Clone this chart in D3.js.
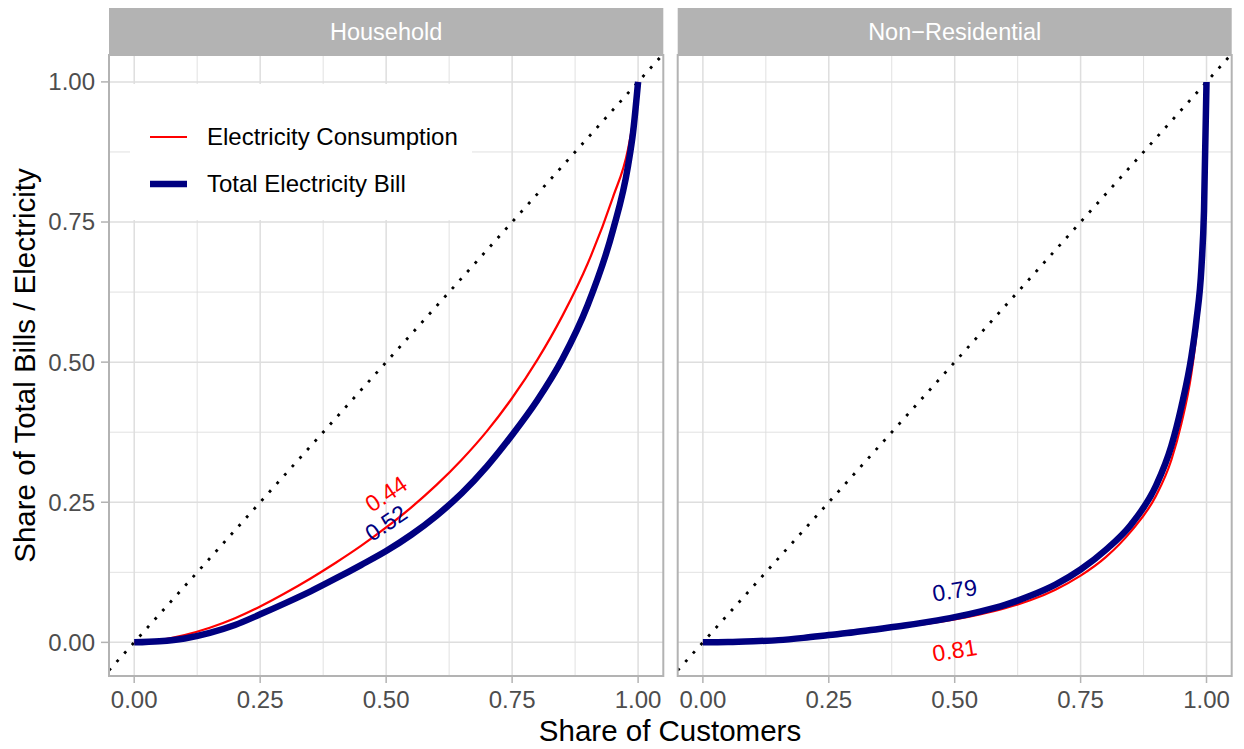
<!DOCTYPE html>
<html>
<head>
<meta charset="utf-8">
<script src="https://cdn.jsdelivr.net/npm/d3@7"></script>
<style>
  html, body { margin: 0; padding: 0; background: #fff; }
  svg { display: block; font-family: "Liberation Sans", Arial, Helvetica, sans-serif; }
</style>
</head>
<body>
<svg id="chart" width="1244" height="749"></svg>
<script>
// Lorenz curves: share of customers vs. cumulative share of consumption / bills
const panelNames = ["Household", "Non\u2212Residential"];
const seriesNames = ["Electricity Consumption", "Total Electricity Bill"];
const seriesColors = ["#FF0000", "#000080"];
const tickValues = [0, 0.25, 0.5, 0.75, 1];
const tickLabels = ["0.00", "0.25", "0.50", "0.75", "1.00"];
const minorTicks = [0.125, 0.375, 0.625, 0.875];

const householdShare = [0, .05, .1, .15, .2, .25, .3, .35, .4, .45, .5, .55, .6, .65, .7, .75, .8, .85, .9, .95, .98, .99, 1];
const householdConsumption = [0, .004, .013, .026, .043, .064, .088, .114, .142, .172, .205, .241, .281, .326, .377, .436, .504, .583, .676, .794, .88, .93, 1];
const householdBill = [0, .002, .007, .017, .031, .05, .07, .091, .114, .138, .163, .192, .226, .266, .314, .37, .432, .506, .602, .735, .85, .91, 1];

const nonResShare = [0, .05, .1, .15, .2, .25, .3, .35, .4, .45, .5, .55, .6, .65, .7, .75, .8, .85, .9, .93, .95, .97, .98, .99, .995, 1];
const nonResConsumption = [0, .0004, .0017, .0035, .0069, .0115, .0165, .022, .028, .034, .041, .05, .061, .075, .094, .119, .152, .198, .262, .325, .39, .48, .55, .65, .75, 1];
const nonResBill = [0, .0005, .002, .004, .008, .013, .018, .024, .03, .037, .045, .055, .067, .083, .103, .13, .165, .21, .28, .35, .42, .51, .575, .67, .77, 1];

// Gini coefficients printed next to each curve: [x, y, text, angle, series index]
const giniHousehold = [[0.5, 0.265, "0.44", -34, 0], [0.5, 0.213, "0.52", -34, 1]];
const giniNonRes = [[0.5, -0.014, "0.81", -9, 0], [0.5, 0.093, "0.79", -9, 1]];

const panels = [
  { name: panelNames[0], share: householdShare, series: [householdConsumption, householdBill], labels: giniHousehold, left: 109, right: 663.3, legend: true },
  { name: panelNames[1], share: nonResShare, series: [nonResConsumption, nonResBill], labels: giniNonRes, left: 677.7, right: 1231.7, legend: false }
];

const svg = d3.select("#chart");
const panelTop = 55, panelBottom = 676, stripTop = 8;
const lineWidths = [2.2, 6.5];
const grey70 = "#B3B3B3", grey87 = "#DEDEDE", grey30 = "#4D4D4D";

const y = d3.scaleLinear().domain([-0.06, 1.048]).range([panelBottom, panelTop]);

panels.forEach((p, i) => {
  const x = d3.scaleLinear().domain([-0.05, 1.05]).range([p.left, p.right]);
  const g = svg.append("g");
  const w = p.right - p.left;

  // strip
  g.append("rect").attr("x", p.left).attr("y", stripTop).attr("width", w).attr("height", panelTop - stripTop).attr("fill", grey70);
  g.append("text").attr("x", (p.left + p.right) / 2).attr("y", (stripTop + panelTop) / 2).attr("dy", "0.35em")
    .attr("text-anchor", "middle").attr("fill", "#fff").attr("font-size", 23.5).text(p.name);

  // grid
  const grid = g.append("g");
  minorTicks.forEach(t => {
    grid.append("line").attr("x1", x(t)).attr("x2", x(t)).attr("y1", panelTop).attr("y2", panelBottom).attr("stroke", grey87).attr("stroke-width", 0.9);
    grid.append("line").attr("y1", y(t)).attr("y2", y(t)).attr("x1", p.left).attr("x2", p.right).attr("stroke", grey87).attr("stroke-width", 0.9);
  });
  tickValues.forEach(t => {
    grid.append("line").attr("x1", x(t)).attr("x2", x(t)).attr("y1", panelTop).attr("y2", panelBottom).attr("stroke", grey87).attr("stroke-width", 1.5);
    grid.append("line").attr("y1", y(t)).attr("y2", y(t)).attr("x1", p.left).attr("x2", p.right).attr("stroke", grey87).attr("stroke-width", 1.5);
  });

  const clipId = "clip" + i;
  svg.append("clipPath").attr("id", clipId).append("rect").attr("x", p.left).attr("y", panelTop).attr("width", w).attr("height", panelBottom - panelTop);
  const plot = g.append("g").attr("clip-path", `url(#${clipId})`);

  // legend box (drawn under the marks)
  if (p.legend) {
    const lg = g.append("g");
    lg.append("rect").attr("x", 130).attr("y", 84).attr("width", 342).attr("height", 136).attr("fill", "#fff");
    seriesNames.forEach((s, k) => {
      const ly = 137 + k * 47;
      lg.append("line").attr("x1", 150).attr("x2", 187).attr("y1", ly).attr("y2", ly)
        .attr("stroke", seriesColors[k]).attr("stroke-width", lineWidths[k]);
      lg.append("text").attr("x", 207).attr("y", ly).attr("dy", "0.35em").attr("font-size", 24).attr("fill", "#000").text(s);
    });
  }

  // 45 degree line of equality
  plot.append("line").attr("x1", x(-0.05)).attr("y1", y(-0.05)).attr("x2", x(1.05)).attr("y2", y(1.05))
    .attr("stroke", "#000").attr("stroke-width", 2.8).attr("stroke-dasharray", "2.8 8.6");

  const line = d3.line().x(d => x(d[0])).y(d => y(d[1])).curve(d3.curveMonotoneX);
  p.series.forEach((vals, k) => {
    const pts = p.share.map((s, j) => [s, vals[j]]);
    plot.append("path").attr("d", line(pts)).attr("fill", "none")
      .attr("stroke", seriesColors[k]).attr("stroke-width", lineWidths[k]).attr("stroke-linejoin", "round");
  });

  // Gini labels
  p.labels.forEach(l => {
    g.append("text").attr("transform", `translate(${x(l[0])},${y(l[1])}) rotate(${l[3]})`)
      .attr("text-anchor", "middle").attr("dy", "0.35em").attr("font-size", 23).attr("fill", seriesColors[l[4]]).text(l[2]);
  });

  // panel border
  g.append("rect").attr("x", p.left).attr("y", panelTop).attr("width", w).attr("height", panelBottom - panelTop)
    .attr("fill", "none").attr("stroke", grey70).attr("stroke-width", 2);

  // x axis
  tickValues.forEach((t, k) => {
    g.append("line").attr("x1", x(t)).attr("x2", x(t)).attr("y1", panelBottom + 1).attr("y2", panelBottom + 7).attr("stroke", grey70).attr("stroke-width", 1.5);
    g.append("text").attr("x", x(t)).attr("y", 699.5).attr("dy", "0.35em").attr("text-anchor", "middle")
      .attr("font-size", 24).attr("fill", grey30).text(tickLabels[k]);
  });

  // y axis (left panel only)
  if (i === 0) {
    tickValues.forEach((t, k) => {
      g.append("line").attr("x1", p.left - 8).attr("x2", p.left - 1).attr("y1", y(t)).attr("y2", y(t)).attr("stroke", grey70).attr("stroke-width", 1.5);
      g.append("text").attr("x", 95).attr("y", y(t)).attr("dy", "0.35em").attr("text-anchor", "end")
        .attr("font-size", 24).attr("fill", grey30).text(tickLabels[k]);
    });
  }
});

// axis titles
svg.append("text").attr("x", 670).attr("y", 731).attr("dy", "0.35em").attr("text-anchor", "middle")
  .attr("font-size", 29.5).attr("fill", "#000").text("Share of Customers");
svg.append("text").attr("transform", `translate(25,${(panelTop + panelBottom) / 2}) rotate(-90)`).attr("dy", "0.35em")
  .attr("text-anchor", "middle").attr("font-size", 29.5).attr("fill", "#000").text("Share of Total Bills / Electricity");
</script>
</body>
</html>
